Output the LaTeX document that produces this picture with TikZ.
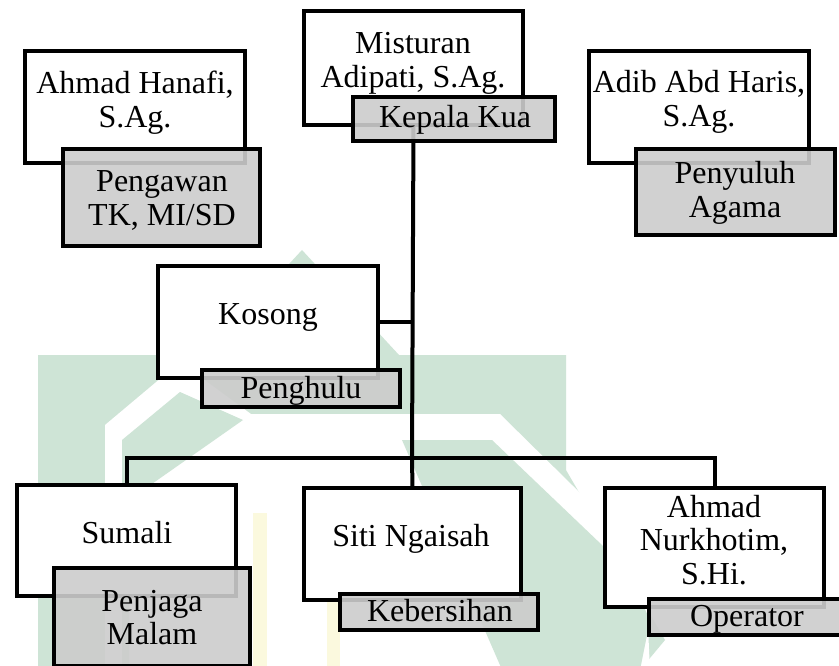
\documentclass[tikz,border=0pt]{standalone}
\usepackage{fontspec}
\setmainfont{Liberation Serif}
\definecolor{wmgreen}{RGB}{206,228,214}
\definecolor{wmyellow}{RGB}{251,249,222}
\definecolor{rolegray}{RGB}{204,204,204}
\newcommand\orglines[1]{\vtop{\halign{\hfil##\hfil\cr #1\crcr}}}
\newcommand\orgbox[6]{%
  \node[#2, minimum width={(#5)-(#3)-4}, minimum height={(#6)-(#4)-4}] (#1)
    at ({((#3)+(#5))/2},{((#4)+(#6))/2}) {};}
\tikzset{
  person/.style={draw=black, line width=4pt, fill=white, inner sep=0pt, outer sep=0pt, rectangle},
  role/.style={draw=black, line width=4pt, fill=rolegray, fill opacity=0.9, draw opacity=1, inner sep=0pt, outer sep=0pt, rectangle},
  lbl/.style={inner sep=0pt, anchor=base, font=\fontsize{32}{33.5}\selectfont},
  conn/.style={draw=black, line width=4pt, line join=miter}
}
\begin{document}
\begin{tikzpicture}[x=1pt,y=-1pt]
\useasboundingbox (0,0) rectangle (839,666);
\clip (0,0) rectangle (839,666);
\fill[white] (0,0) rectangle (839,666);
% faint background watermark
\fill[wmgreen] (38,670) -- (38,355) -- (205,355) -- (302,250) -- (399,355) -- (566,355)
  -- (566,470) -- (665,640) -- (640,670) -- cycle;
\fill[white] (105,672) -- (105,425) -- (180,362) -- (251,414) -- (500,414) -- (645,557)
  -- (650,672) -- cycle;
\fill[wmgreen] (122,672) -- (122,440) -- (180,392) -- (243,420) -- (129,500) -- (129,672) -- cycle;
\fill[wmgreen] (402,440) -- (492,440) -- (625,567) -- (650,620) -- (640,670) -- (503,672) -- cycle;
\fill[wmyellow] (253,513) rectangle (267,666);
\fill[wmyellow] (327,600) rectangle (340,666);
% boxes
\orgbox{hanafi}{person}{23}{49}{247}{165}
\orgbox{pengawas}{role}{61}{147}{262}{248}
\orgbox{misturan}{person}{302}{9}{525}{127}
\orgbox{adib}{person}{587}{49}{811}{165}
\orgbox{penyuluh}{role}{634}{147}{837}{237}
\orgbox{kosong}{person}{156}{264}{380}{380}
\orgbox{sumali}{person}{15}{483}{238}{598}
\orgbox{siti}{person}{302}{486}{523}{602}
\orgbox{nurkhotim}{person}{603}{486}{826}{609}
\coordinate (bus) at (412,458);
% connectors
\draw[conn] (misturan.south) -- (bus);
\draw[conn] (kosong.east) -- (kosong.east -| bus);
\draw[conn] (sumali.north) |- (nurkhotim.north |- bus) -- (nurkhotim.north);
\draw[conn] (bus) -- (siti.north);
% role boxes
\orgbox{kepala}{role}{351}{95}{557}{143}
\orgbox{penghulu}{role}{200}{368}{402}{409}
\orgbox{penjaga}{role}{52}{566}{252}{668}
\orgbox{kebersihan}{role}{338}{592}{540}{632}
\orgbox{operator}{role}{647}{597}{847}{637}
% texts
\node[lbl] (t-hanafi) at (135,94) {\orglines{Ahmad Hanafi,\cr S.Ag.}};
\node[lbl] (t-pengawas) at (162,192) {\orglines{Pengawan\cr TK, MI/SD}};
\node[lbl] (t-misturan) at (413,54) {\orglines{Misturan\cr Adipati, S.Ag.}};
\node[lbl] (t-kepala) at (455,128) {Kepala Kua};
\node[lbl] (t-adib) at (699,93) {\orglines{Adib Abd Haris,\cr S.Ag.}};
\node[lbl] (t-penyuluh) at (735,184) {\orglines{Penyuluh\cr Agama}};
\node[lbl] (t-kosong) at (268,324) {Kosong};
\node[lbl] (t-penghulu) at (301,398) {Penghulu};
\node[lbl] (t-sumali) at (127,543) {Sumali};
\node[lbl] (t-penjaga) at (152,611) {\orglines{Penjaga\cr Malam}};
\node[lbl] (t-siti) at (411,546) {Siti Ngaisah};
\node[lbl] (t-kebersihan) at (440,621) {Kebersihan};
\node[lbl] (t-nurkhotim) at (714,517) {\orglines{Ahmad\cr Nurkhotim,\cr S.Hi.}};
\node[lbl] (t-operator) at (747,626) {Operator};
\end{tikzpicture}
\end{document}
